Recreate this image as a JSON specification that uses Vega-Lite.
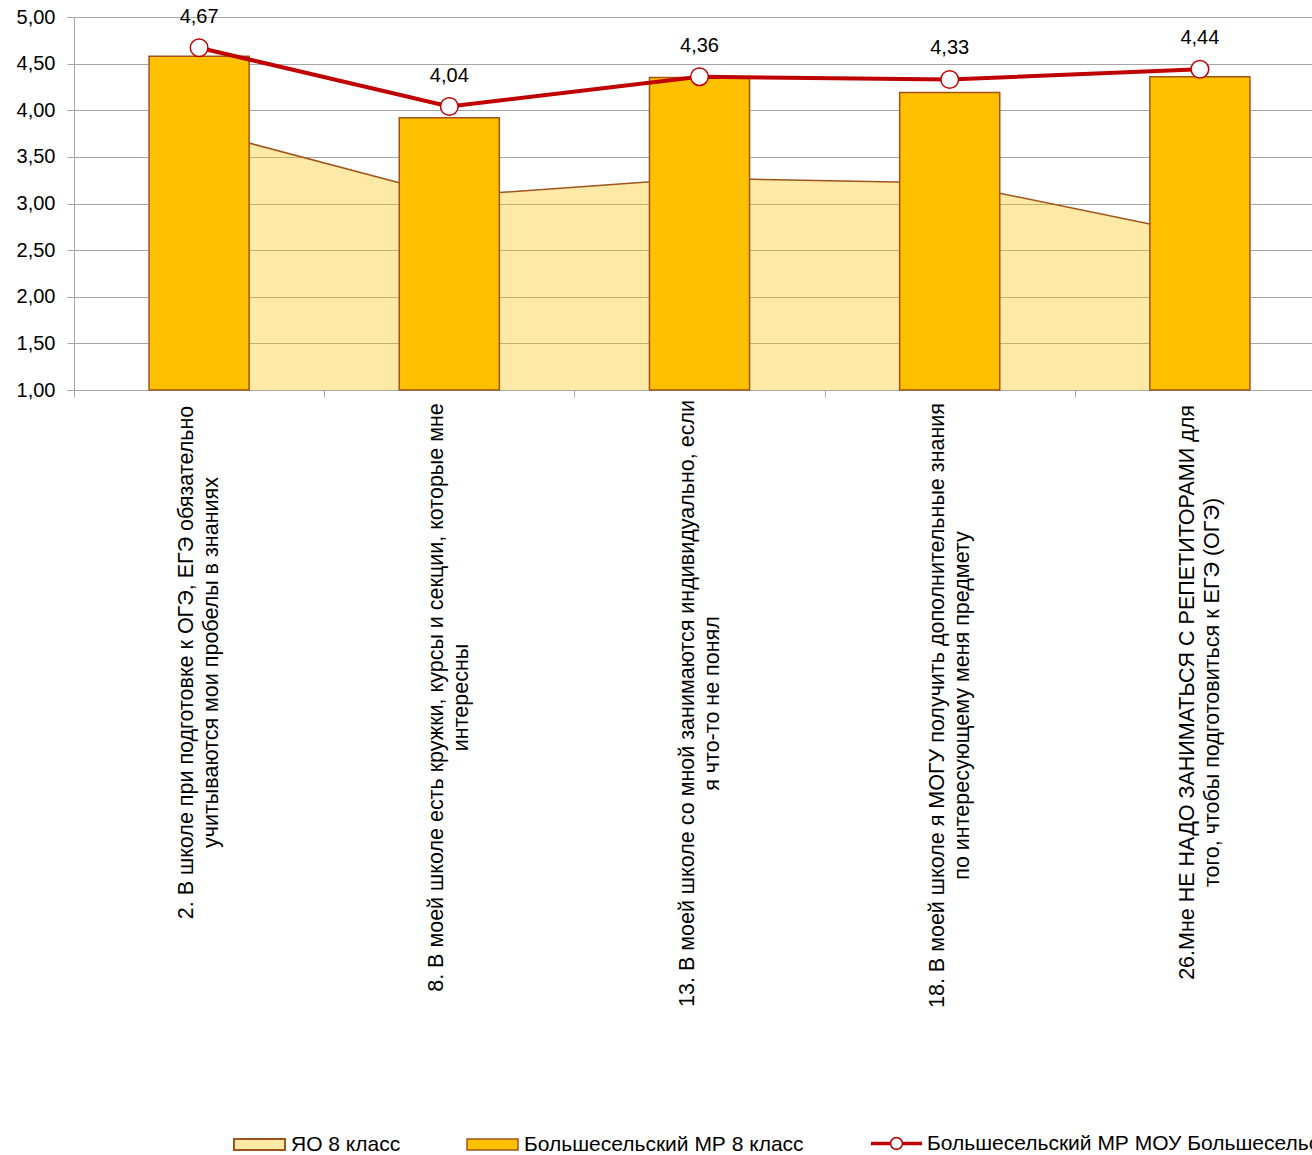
{
  "$schema": "https://vega.github.io/schema/vega-lite/v6.json",
  "width": 1238,
  "height": 373,
  "autosize": "none",
  "padding": {"left": 74, "top": 17, "right": 0, "bottom": 765},
  "background": "white",
  "config": {
    "font": "Liberation Sans",
    "locale": {"number": {"decimal": ",", "thousands": " ", "grouping": [3], "currency": ["", ""]}},
    "view": {"stroke": null},
    "axis": {"domainColor": "#A6A6A6", "tickColor": "#A6A6A6", "gridColor": "#A6A6A6", "labelColor": "#000000", "labelFontSize": 20, "labelFont": "Liberation Sans"},
    "legend": {"labelFont": "Liberation Sans", "labelFontSize": 21, "labelColor": "#000000", "padding": 0, "labelLimit": 900}
  },
  "data": {
    "values": [
      {"question": "2. В школе при подготовке к ОГЭ, ЕГЭ обязательно\nучитываются мои пробелы в знаниях", "yo": 3.79, "mr": 4.58, "mou": 4.67},
      {"question": "8. В моей школе есть кружки, курсы и секции,  которые мне\nинтересны", "yo": 3.08, "mr": 3.92, "mou": 4.04},
      {"question": "13.  В моей школе со мной занимаются индивидуально, если\nя что-то не понял", "yo": 3.27, "mr": 4.35, "mou": 4.36},
      {"question": "18. В моей школе я МОГУ  получить дополнительные знания\nпо интересующему меня предмету", "yo": 3.22, "mr": 4.19, "mou": 4.33},
      {"question": "26.Мне НЕ НАДО ЗАНИМАТЬСЯ С РЕПЕТИТОРАМИ для\nтого, чтобы подготовиться к ЕГЭ (ОГЭ)", "yo": 2.67, "mr": 4.36, "mou": 4.44}
    ]
  },
  "encoding": {
    "x": {
      "field": "question",
      "type": "nominal",
      "sort": null,
      "scale": {"range": [0, 1251], "paddingInner": 0, "paddingOuter": 0},
      "axis": {
        "title": null,
        "labelAngle": -90,
        "labelAlign": "center",
        "labelBaseline": "middle",
        "labelExpr": "split(datum.label, '\\n')",
        "labelLineHeight": 25,
        "labelFontSize": 21.5,
        "labelLimit": 1000,
        "labelOverlap": false,
        "labelOffset": -12.5,
        "tickBand": "extent",
        "tickSize": 7,
        "grid": false,
        "labelPadding": {
          "condition": [
            {"test": "datum.index == 0", "value": 265},
            {"test": "datum.index == 0.25", "value": 300},
            {"test": "datum.index == 0.5", "value": 306},
            {"test": "datum.index == 0.75", "value": 308}
          ],
          "value": 295
        }
      }
    }
  },
  "layer": [
    {
      "mark": {"type": "area", "fillOpacity": 0.35, "clip": true},
      "encoding": {
        "y": {
          "field": "yo",
          "type": "quantitative",
          "scale": {"domain": [1, 5], "zero": false, "nice": false},
          "axis": {
            "title": null,
            "values": [1, 1.5, 2, 2.5, 3, 3.5, 4, 4.5, 5],
            "format": ".2f",
            "grid": true,
            "tickSize": 7,
            "labelPadding": 12,
            "labelFontSize": 20
          }
        },
        "y2": {"datum": 1},
        "fill": {
          "datum": "ЯО 8 класс",
          "type": "nominal",
          "scale": {"range": ["#FFC000"]},
          "legend": {
            "title": null,
            "orient": "none",
            "legendX": 159,
            "legendY": 1101,
            "symbolType": "M-1,-0.216H1V0.216H-1Z",
            "symbolSize": 2601,
            "labelOffset": 5,
            "encode": {"symbols": {"update": {"fillOpacity": {"value": 0.35}, "opacity": {"value": 1}, "stroke": {"value": "#A0541C"}, "strokeOpacity": {"value": 1}, "strokeWidth": {"value": 2}}}}
          }
        }
      }
    },
    {
      "mark": {"type": "line", "stroke": "#A0541C", "strokeWidth": 1.5},
      "encoding": {"y": {"field": "yo", "type": "quantitative"}}
    },
    {
      "mark": {"type": "bar", "width": {"band": 0.4}, "stroke": "#A0541C", "strokeWidth": 1.5},
      "encoding": {
        "y": {"field": "mr", "type": "quantitative"},
        "y2": {"datum": 1},
        "fill": {
          "datum": "Большесельский МР 8 класс",
          "type": "nominal",
          "scale": {"range": ["#FFC000"]},
          "legend": {
            "title": null,
            "orient": "none",
            "legendX": 392,
            "legendY": 1101,
            "symbolType": "M-1,-0.216H1V0.216H-1Z",
            "symbolSize": 2601,
            "labelOffset": 5,
            "encode": {"symbols": {"update": {"fillOpacity": {"value": 1}, "opacity": {"value": 1}, "stroke": {"value": "#A0541C"}, "strokeWidth": {"value": 2}}}}
          }
        }
      }
    },
    {
      "mark": {"type": "line", "strokeWidth": 4},
      "encoding": {
        "y": {"field": "mou", "type": "quantitative"},
        "stroke": {
          "datum": "Большесельский МР МОУ Большесельская СОШ",
          "type": "nominal",
          "scale": {"range": ["#C00000"]},
          "legend": {
            "title": null,
            "orient": "none",
            "legendX": 797,
            "legendY": 1101,
            "symbolType": "M-1,-0.07H-0.24V0.07H-1Z M0.24,-0.07H1V0.07H0.24Z M0.26,0A0.26,0.26 0 1,1 -0.26,0A0.26,0.26 0 1,1 0.26,0Z M0.2,0A0.2,0.2 0 1,0 -0.2,0A0.2,0.2 0 1,0 0.2,0Z",
            "symbolSize": 2601,
            "labelOffset": 5,
            "encode": {"symbols": {"update": {"fill": {"value": "#C00000"}, "fillOpacity": {"value": 1}, "opacity": {"value": 1}, "stroke": {"value": "transparent"}, "strokeWidth": {"value": 0}}}}
          }
        }
      }
    },
    {
      "mark": {"type": "point", "shape": "circle", "filled": true, "fill": "white", "stroke": "#C00000", "strokeWidth": 1.5, "size": 310, "opacity": 1},
      "encoding": {"y": {"field": "mou", "type": "quantitative"}}
    },
    {
      "mark": {"type": "text", "dy": -25, "baseline": "alphabetic", "fontSize": 20, "color": "#000000"},
      "encoding": {
        "y": {"field": "mou", "type": "quantitative"},
        "text": {"field": "mou", "type": "quantitative", "format": ".2f"}
      }
    }
  ],
  "resolve": {"scale": {"fill": "independent"}}
}
